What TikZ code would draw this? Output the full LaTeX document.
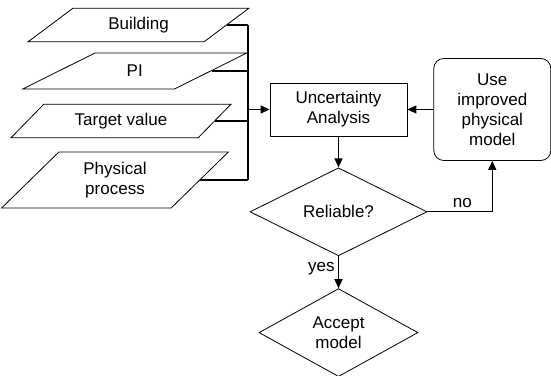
\documentclass[tikz,border=0pt]{standalone}
\usepackage{fontspec}
\setmainfont{Liberation Sans}
\usetikzlibrary{shapes.geometric,arrows.meta}
\usetikzlibrary{positioning}

\begin{document}
\begin{tikzpicture}[x=1pt, y=1pt, font=\fontsize{17}{20}\selectfont,
	input/.style = {draw, trapezium, trapezium stretches=true, align=center, inner sep=0pt, line width=0.8pt},
	box/.style = {draw, rectangle, align=center, line width=0.8pt},
	choice/.style = {draw, diamond, align=center, inner sep=0pt, line width=0.8pt},
	flow/.style = {-{Triangle[length=9pt,width=8pt]}, line width=1.3pt}]
		\useasboundingbox (0,0) rectangle (551,375);
		% inputs
		\node[input, trapezium left angle=37.5, trapezium right angle=142.5, minimum width=221pt, minimum height=33.5pt] (build) at (138.5,350) {Building};
		\node[input, trapezium left angle=38.7, trapezium right angle=141.3, minimum width=225pt, minimum height=36pt] (pi) at (134.75,304) {PI};
		\node[input, trapezium left angle=39, trapezium right angle=141, minimum width=220pt, minimum height=33.4pt] (target) at (121,254) {Target value};
		\node[input, trapezium left angle=48, trapezium right angle=132, minimum width=227pt, minimum height=56pt] (phys) at (115,195) {Physical\\process};
		
		\node[box, minimum width=137pt, minimum height=53pt] (unc) at (338.5,265.5) {Uncertainty\\Analysis};
		\node[box, rounded corners=10pt, minimum width=117pt, minimum height=102pt] (improve) [right = 26pt of unc] {Use\\improved\\physical\\model};
		\node[choice, minimum width=177pt, minimum height=88pt] (rel) [below = 31pt of unc] {Reliable?};
		\node[choice, minimum width=159pt, minimum height=88pt] (accept) [below = 32pt of rel] {Accept\\model};
		
		\coordinate (bus) at (248,0);
		\begin{scope}[line width=1.2pt]
			\draw (build.east) -- (build.east -| bus);
			\draw (pi.east) -- (pi.east -| bus);
			\draw (target.east) -- (target.east -| bus);
			\draw (phys.east) -- (phys.east -| bus);
			\draw (build.east -| bus) -- (phys.east -| bus);
		\end{scope}
		\draw[flow] (unc.west -| bus) -- (unc.west);
		\draw[flow] (improve.west) -- (unc.east);
		\draw[flow] (unc.south) -- (rel.north);
		\draw[flow] (rel.east) -| node[pos=0.27, above] {no} (improve.south);
		\draw[flow] (rel.south) -- node[pos=0.4, left] {yes} (accept.north);
	\end{tikzpicture}
\end{document}
